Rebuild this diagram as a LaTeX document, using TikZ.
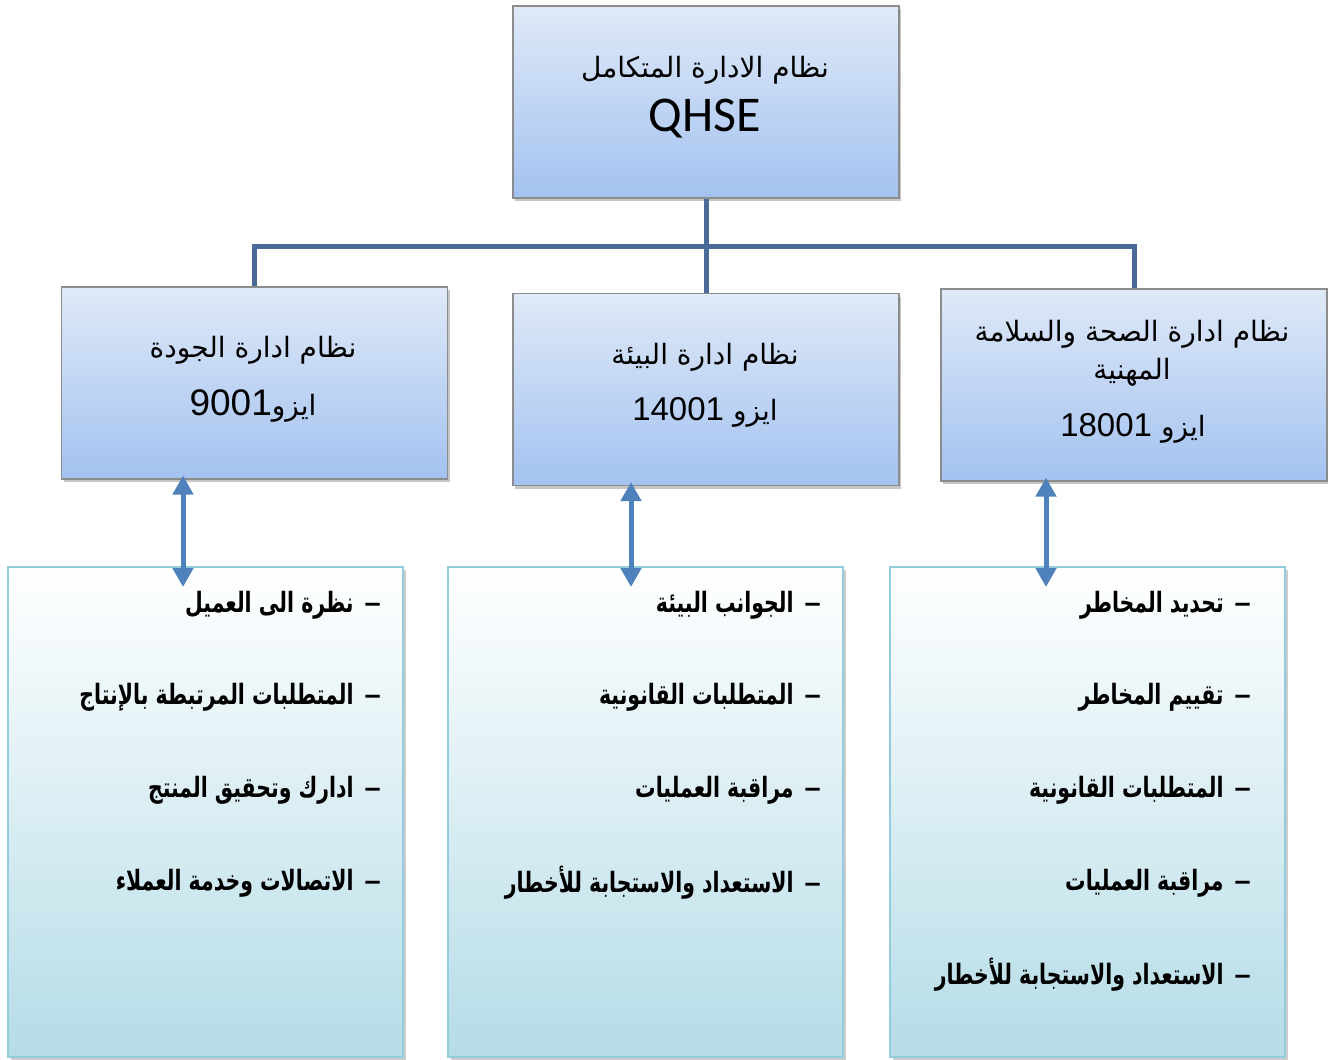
\documentclass[tikz,border=0pt]{standalone}
\usepackage{fontspec}
\setmainfont{Carlito}
\newfontfamily\arabicfont[Script=Arabic]{DejaVu Sans}
\newfontfamily\arabicitem[Script=Arabic,FakeStretch=0.73]{DejaVu Sans}
\newfontfamily\digitfont{Liberation Sans}
\TeXXeTstate=1
\usetikzlibrary{shadows,arrows.meta}
\definecolor{boxgray}{HTML}{8C8C8C}
\definecolor{midtop}{HTML}{DFE9F8}
\definecolor{midbot}{HTML}{A3C2F0}
\definecolor{lowtop}{HTML}{FFFFFF}
\definecolor{lowbot}{HTML}{B5DCE7}
\definecolor{lowborder}{HTML}{93CDDD}
\definecolor{treeblue}{HTML}{4A6B98}
\definecolor{arrowblue}{HTML}{4F81BD}
\tikzset{
  midbox/.style={draw=boxgray, line width=1.2pt, top color=midtop, bottom color=midbot,
    minimum width=386pt, minimum height=192pt, inner sep=0pt,
    drop shadow={shadow xshift=2pt, shadow yshift=-3pt, opacity=0.45}},
  lowbox/.style={draw=lowborder, line width=2pt, top color=lowtop, bottom color=lowbot,
    minimum width=395pt, minimum height=490pt, inner sep=0pt,
    drop shadow={shadow xshift=3pt, shadow yshift=-3pt, opacity=0.4}},
  tree/.style={draw=treeblue, line width=5pt},
  dblarrow/.style={draw=arrowblue, line width=5pt,
    {Triangle[width=20pt,length=19pt]}-{Triangle[width=20pt,length=19pt]}, shorten <=-4pt},
  headtxt/.style={font=\arabicfont\fontsize{28}{33}\selectfont, align=center, text=black},
  numtxt/.style={font=\digitfont\fontsize{33}{37}\selectfont, text=black},
  item/.style={font=\arabicitem\bfseries\fontsize{28}{32}\selectfont, anchor=east, inner sep=0pt, text=black}
}
\newcommand{\isoword}{{\arabicfont\fontsize{28}{33}\selectfont ايزو}}
\newcommand{\itemdash}{{\digitfont\bfseries\fontsize{29}{32}\selectfont –}\hspace{11pt}}
\begin{document}
\begin{tikzpicture}[x=1pt,y=-1pt]
\useasboundingbox (0,0) rectangle (1328,1060);
% boxes
\node[midbox] (top) at (706,102) {};
\node[midbox] (lm) at (254.5,383) {};
\node[midbox] (mm) at (706,389.5) {};
\node[midbox] (rm) at (1134,385) {};
\node[lowbox] (lb) at (205.5,812) {};
\node[lowbox] (mb) at (645,812) {};
\node[lowbox] (rb) at (1087,812) {};
% tree connectors
\draw[tree] (lm.north) -- ++(0,-40) -| (rm.north);
\draw[tree] (top.south) -- (mm.north);
% box texts
\node[headtxt] (toptxt) at (705,70) {\beginR نظام الادارة المتكامل\endR};
\node[font=\fontsize{50}{55}\selectfont] (qhse) at (705,119) {QHSE};
\node[headtxt] (lmtxt) at (253,350) {\beginR نظام ادارة الجودة\endR};
\node[numtxt, font=\digitfont\fontsize{37}{40}\selectfont] (lmnum) at (253,406) {\beginR\isoword\beginL 9001\endL\endR};
\node[headtxt] (mmtxt) at (705,357) {\beginR نظام ادارة البيئة\endR};
\node[numtxt] (mmnum) at (705,412) {\beginR\isoword\ \beginL 14001\endL\endR};
\node[headtxt, font=\arabicfont\fontsize{28}{38}\selectfont] (rmtxt) at (1132,353) {\beginR نظام ادارة الصحة والسلامة\endR\\\beginR المهنية\endR};
\node[numtxt] (rmnum) at (1133,428) {\beginR\isoword\ \beginL 18001\endL\endR};
% arrows
\coordinate (la) at (183,587);
\coordinate (ma) at (631,587);
\coordinate (ra) at (1046,587);
\draw[dblarrow] (la |- lm.south) -- (la);
\draw[dblarrow] (ma |- mm.south) -- (ma);
\draw[dblarrow] (ra |- rm.south) -- (ra);
% left list
\node[item] (l1) at (381,605) {\beginR\itemdash نظرة الى العميل\endR};
\node[item] (l2) at (381,697) {\beginR\itemdash المتطلبات المرتبطة بالإنتاج\endR};
\node[item] (l3) at (381,790) {\beginR\itemdash ادارك وتحقيق المنتج\endR};
\node[item] (l4) at (381,883) {\beginR\itemdash الاتصالات وخدمة العملاء\endR};
% middle list
\node[item] (m1) at (821,605) {\beginR\itemdash الجوانب البيئة\endR};
\node[item] (m2) at (821,697) {\beginR\itemdash المتطلبات القانونية\endR};
\node[item] (m3) at (821,790) {\beginR\itemdash مراقبة العمليات\endR};
\node[item] (m4) at (821,883) {\beginR\itemdash الاستعداد والاستجابة للأخطار\endR};
% right list
\node[item] (r1) at (1251,605) {\beginR\itemdash تحديد المخاطر\endR};
\node[item] (r2) at (1251,697) {\beginR\itemdash تقييم المخاطر\endR};
\node[item] (r3) at (1251,790) {\beginR\itemdash المتطلبات القانونية\endR};
\node[item] (r4) at (1251,883) {\beginR\itemdash مراقبة العمليات\endR};
\node[item] (r5) at (1251,975) {\beginR\itemdash الاستعداد والاستجابة للأخطار\endR};
\end{tikzpicture}
\end{document}
